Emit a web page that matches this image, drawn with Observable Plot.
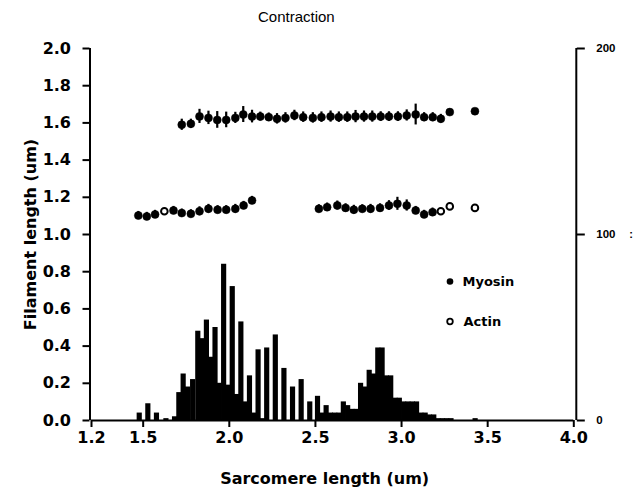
<!DOCTYPE html>
<html><head><meta charset="utf-8">
<script src="https://cdn.jsdelivr.net/npm/d3@7"></script>
<script src="https://cdn.jsdelivr.net/npm/@observablehq/plot@0.6"></script>
<style>
body{margin:0;background:#fff;}
#wrap{position:relative;width:638px;height:495px;background:#fff;}
#title{position:absolute;left:258px;top:9px;font:15px "Liberation Sans",Arial,sans-serif;color:#000;line-height:15px;}
#chart{position:absolute;left:0;top:30px;}
</style></head><body>
<div id="wrap"><div id="title">Contraction</div><div id="chart"></div></div>
<script>
// Myosin filament length vs sarcomere length
const myosinX = [1.724,1.777,1.827,1.879,1.930,1.982,2.035,2.081,2.132,2.180,2.229,2.277,2.326,2.378,2.429,2.485,2.535,2.588,2.636,2.685,2.733,2.782,2.830,2.879,2.927,2.979,3.030,3.082,3.131,3.181,3.228,3.280,3.426];
const myosinY = [1.590,1.595,1.635,1.627,1.616,1.616,1.627,1.645,1.634,1.634,1.631,1.622,1.627,1.640,1.631,1.627,1.631,1.634,1.631,1.631,1.634,1.634,1.634,1.634,1.634,1.634,1.640,1.645,1.631,1.631,1.622,1.658,1.663];
const myosinErr = [0.030,0.025,0.038,0.036,0.045,0.042,0.030,0.043,0.034,0.024,0.022,0.028,0.028,0.028,0.028,0.028,0.028,0.030,0.028,0.028,0.033,0.030,0.030,0.026,0.026,0.026,0.030,0.056,0.024,0.024,0.024,0,0];
// Actin filament length vs sarcomere length
const actinX = [1.472,1.521,1.569,1.623,1.676,1.724,1.777,1.827,1.879,1.932,1.982,2.035,2.083,2.132,
                2.520,2.568,2.627,2.675,2.723,2.772,2.820,2.875,2.927,2.976,3.030,3.082,3.131,3.180,3.228,3.280,3.426];
const actinY = [1.102,1.097,1.108,1.125,1.129,1.115,1.111,1.125,1.138,1.133,1.133,1.138,1.156,1.183,
                1.138,1.147,1.156,1.143,1.133,1.138,1.138,1.143,1.156,1.165,1.156,1.129,1.108,1.120,1.125,1.151,1.143];
const actinErr = [0.022,0.022,0.022,0,0.022,0.022,0.022,0.024,0.024,0.022,0.022,0.024,0.022,0.022,
                  0.022,0.022,0.024,0.022,0.024,0.022,0.024,0.022,0.026,0.035,0.030,0.022,0.022,0.022,0,0,0];
const actinOpen = [false,false,false,true,false,false,false,false,false,false,false,false,false,false,
                   false,false,false,false,false,false,false,false,false,false,false,false,false,false,true,true,true];
// Sarcomere length histogram (counts, right axis)
const histX = [1.48,1.53,1.58,1.635,1.685,1.71,1.735,1.76,1.79,1.82,1.845,1.87,1.895,1.92,1.945,1.97,1.995,2.02,2.045,2.07,2.095,2.12,2.145,2.17,2.195,2.22,2.27,2.32,2.37,2.42,2.47,2.515,2.54,2.565,2.59,2.615,2.64,2.665,2.69,2.715,2.74,2.765,2.79,2.815,2.84,2.865,2.89,2.915,2.94,2.965,2.99,3.015,3.04,3.065,3.09,3.115,3.14,3.165,3.19,3.215,3.24,3.265,3.29,3.43];
const histCount = [4,9,4,1,2,15,25,18,22,48,44,54,34,50,20,84,19,72,14,53,10,24,4,38,1,39,46,28,18,22,10,13,4,8,4,4,4,10,8,6,6,20,18,27,25,39,39,24,24,12,12,10,10,10,10,4,4,3,3,1,1,1,1,1];
const binHalf = 0.015;
// Axes
const xTicks = [1.2,1.5,2.0,2.5,3.0,3.5,4.0];
const yTicks = [0,0.2,0.4,0.6,0.8,1.0,1.2,1.4,1.6,1.8,2.0];
const rightTickPos = [0,1,2];
const rightTickLabels = ["0","100","200"];
const countPerUnit = 100;
const xLabel = "Sarcomere length (um)";
const yLabel = "Filament length (um)";
const legendLabels = ["Myosin","Actin"];

const myosin = myosinX.map((x,i)=>({x, y:myosinY[i], e:myosinErr[i]}));
const actin = actinX.map((x,i)=>({x, y:actinY[i], e:actinErr[i], open:actinOpen[i]}));
const hist = histX.map((x,i)=>({x, n:histCount[i]}));

const plot = Plot.plot({
  width: 638, height: 465,
  marginLeft: 91, marginRight: 64.7, marginTop: 18, marginBottom: 75,
  x: {domain: [xTicks[0], xTicks[xTicks.length-1]]},
  y: {domain: [yTicks[0], yTicks[yTicks.length-1]]},
  style: {fontFamily: "DejaVu Sans", fontSize: "16px", fontWeight: "bold", color: "black", background: "white", overflow: "visible"},
  marks: [
    Plot.rectY(hist, {x1: d=>d.x-binHalf, x2: d=>d.x+binHalf, y: d=>d.n/countPerUnit, fill: "black"}),
    Plot.ruleX(myosin.filter(d=>d.e>0), {x:"x", y1: d=>d.y-d.e, y2: d=>d.y+d.e, stroke:"black", strokeWidth: 2.2}),
    Plot.dot(myosin, {x:"x", y:"y", r: 4, fill:"black", stroke:"black", strokeWidth: 0.5}),
    Plot.ruleX(actin.filter(d=>d.e>0), {x:"x", y1: d=>d.y-d.e, y2: d=>d.y+d.e, stroke:"black", strokeWidth: 2.2}),
    Plot.dot(actin.filter(d=>!d.open), {x:"x", y:"y", r: 4, fill:"black", stroke:"black", strokeWidth: 0.5}),
    Plot.dot(actin.filter(d=>d.open), {x:"x", y:"y", r: 3.3, fill:"white", stroke:"black", strokeWidth: 2}),
    // axis lines
    Plot.ruleX([xTicks[0]], {dx: -1.5, stroke:"black", strokeWidth: 2}),
    Plot.ruleX([xTicks[xTicks.length-1]], {dx: 2.5, stroke:"black", strokeWidth: 2}),
    Plot.ruleY([yTicks[0]], {stroke:"black", strokeWidth: 2}),
    Plot.axisX(xTicks, {anchor:"bottom", tickSize: 7, tickPadding: 4, strokeWidth: 2, tickFormat: d3.format(".1f"), label: null, fontSize: 16, fontWeight: "bold"}),
    Plot.axisY(yTicks, {anchor:"left", tickSize: 7, tickPadding: 12, strokeWidth: 2, dx: -1.5, tickFormat: d3.format(".1f"), label: null, fontSize: 16, fontWeight: "bold"}),
    Plot.axisY(rightTickPos, {anchor:"right", tickSize: 8, tickPadding: 12, strokeWidth: 2, dx: 2.5, tickFormat: d=>rightTickLabels[rightTickPos.indexOf(d)], label: null, fontSize: 11.5, fontWeight: "bold", fontFamily: "Liberation Sans"}),
    Plot.text([":"], {frameAnchor: "right", dx: 59, fontSize: 11, fontFamily: "Liberation Sans"}),
    Plot.text([xLabel], {frameAnchor: "bottom", textAnchor: "middle", lineAnchor: "middle", dx: -8, dy: 58, fontSize: 16, fontWeight: "bold"}),
    Plot.text([yLabel], {frameAnchor: "left", textAnchor: "middle", lineAnchor: "middle", dx: -61, rotate: -90, fontSize: 16, fontWeight: "bold"}),
    // legend
    Plot.dot([legendLabels[0]], {frameAnchor: "top-left", dx: 358.5, dy: 233, r: 3.3, fill: "black"}),
    Plot.text([legendLabels[0]], {frameAnchor: "top-left", dx: 371, dy: 233, textAnchor: "start", lineAnchor: "middle", fontSize: 13, fontWeight: "bold"}),
    Plot.dot([legendLabels[1]], {frameAnchor: "top-left", dx: 358.5, dy: 273, r: 2.8, fill: "white", stroke: "black", strokeWidth: 1.8}),
    Plot.text([legendLabels[1]], {frameAnchor: "top-left", dx: 372, dy: 273, textAnchor: "start", lineAnchor: "middle", fontSize: 13, fontWeight: "bold"})
  ]
});
document.getElementById("chart").appendChild(plot);
</script>
</body></html>
